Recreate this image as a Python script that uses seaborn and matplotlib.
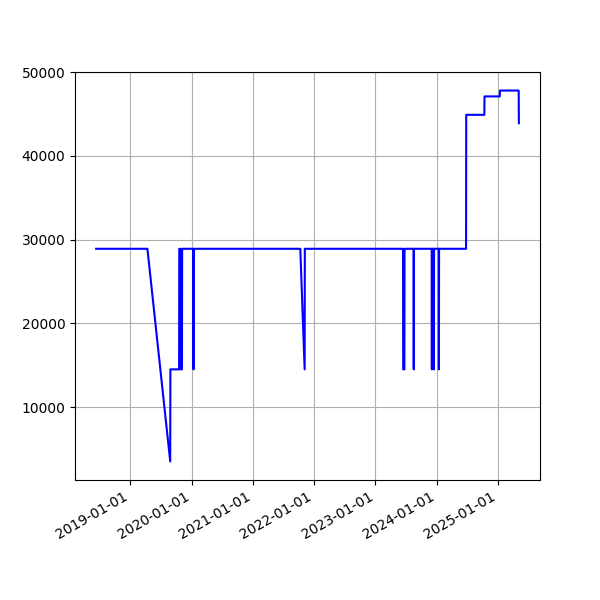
import pandas as pd
import numpy as np
import matplotlib
matplotlib.use("Agg")
import matplotlib.pyplot as plt
import matplotlib.dates as mdates
import seaborn as sns

### price history
dates = ["2018-06-10", "2019-04-12", "2019-08-26", "2019-08-27",
         "2019-10-18", "2019-10-19", "2019-10-27", "2019-10-28",
         "2019-11-04", "2019-11-05",
         "2020-01-11", "2020-01-12", "2020-01-13",
         "2021-10-10", "2021-11-05", "2021-11-06",
         "2023-06-15", "2023-06-16", "2023-06-23", "2023-06-24",
         "2023-08-17", "2023-08-18", "2023-08-19",
         "2023-12-03", "2023-12-04", "2023-12-05",
         "2023-12-15", "2023-12-16", "2023-12-17",
         "2024-01-14", "2024-01-15", "2024-01-16",
         "2024-06-25", "2024-06-26", "2024-10-12", "2024-10-13",
         "2025-01-12", "2025-01-13", "2025-05-05", "2025-05-06"]
prices = [28900, 28900, 3500, 14500,
          14500, 28900, 28900, 14500,
          14500, 28900,
          28900, 14500, 28900,
          28900, 14500, 28900,
          28900, 14500, 14500, 28900,
          28900, 14500, 28900,
          28900, 14500, 28900,
          28900, 14500, 28900,
          28900, 14500, 28900,
          28900, 44900, 44900, 47100,
          47100, 47800, 47800, 43900]

df = pd.DataFrame({"date": pd.to_datetime(dates), "price": prices})

fig, ax = plt.subplots(figsize=(6, 6), dpi=100)
sns.lineplot(data=df, x="date", y="price", color="blue", ax=ax)
ax.set_xlabel("")
ax.set_ylabel("")
ax.grid(True)
ax.xaxis.set_major_locator(mdates.YearLocator())
ax.xaxis.set_major_formatter(mdates.DateFormatter("%Y-%m-%d"))
fig.autofmt_xdate()
plt.savefig("out.png")
